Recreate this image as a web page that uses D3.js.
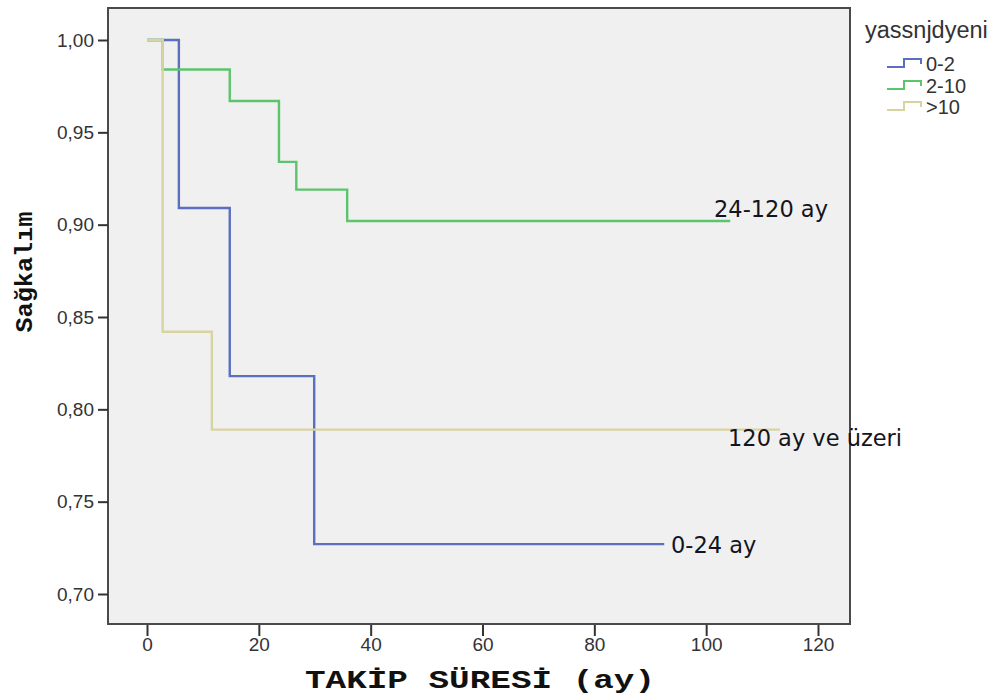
<!DOCTYPE html>
<html>
<head>
<meta charset="utf-8">
<script src="https://cdn.jsdelivr.net/npm/d3@7"></script>
<style>
  body { margin: 0; background: #fff; }
  svg { display: block; }
</style>
</head>
<body>
<div id="chart"></div>
<script>
// survival curves (step after), time in months
var blueTimes = [0, 5.7, 14.8, 29.9, 92.5];
var blueSurv = [1.0, 0.909, 0.818, 0.727, 0.727];
var greenTimes = [0, 2.8, 14.8, 23.6, 26.7, 35.8, 104.3];
var greenSurv = [1.0, 0.984, 0.967, 0.934, 0.919, 0.902, 0.902];
var tanTimes = [0, 2.8, 11.6, 113.2];
var tanSurv = [1.0, 0.842, 0.789, 0.789];

var xTicks = [0, 20, 40, 60, 80, 100, 120];
var yTicks = [0.70, 0.75, 0.80, 0.85, 0.90, 0.95, 1.00];
var groupNames = ['0-2', '2-10', '>10'];
var curveLabels = ['0-24 ay', '24-120 ay', '120 ay ve üzeri'];

var colors = ['#5a6fc0', '#5cc46c', '#d8d4a2'];

var W = 996, H = 699;
var frame = {left: 108, top: 8, right: 850, bottom: 624};

var x = d3.scaleLinear().domain([0, 120]).range([147, 818]);
var y = d3.scaleLinear().domain([0.70, 1.00]).range([594, 40]);

var svg = d3.select('#chart').append('svg')
  .attr('width', W)
  .attr('height', H);

svg.append('rect')
  .attr('x', frame.left).attr('y', frame.top)
  .attr('width', frame.right - frame.left)
  .attr('height', frame.bottom - frame.top)
  .attr('fill', '#f0f0f0');

var series = [
  {times: blueTimes, surv: blueSurv, color: colors[0]},
  {times: greenTimes, surv: greenSurv, color: colors[1]},
  {times: tanTimes, surv: tanSurv, color: colors[2]}
];

var line = d3.line()
  .x(function(d){ return x(d[0]); })
  .y(function(d){ return y(d[1]); })
  .curve(d3.curveStepAfter);

svg.selectAll('path.km')
  .data(series)
  .enter()
    .append('path')
    .classed('km', true)
    .attr('d', function(s){ return line(s.times.map(function(t, i){ return [t, s.surv[i]]; })); })
    .attr('fill', 'none')
    .attr('stroke', function(s){ return s.color; })
    .attr('stroke-width', 2.4);

// frame
svg.append('rect')
  .attr('x', frame.left).attr('y', frame.top)
  .attr('width', frame.right - frame.left)
  .attr('height', frame.bottom - frame.top)
  .attr('fill', 'none')
  .attr('stroke', '#4a4a4a')
  .attr('stroke-width', 2);

var fmt = function(d){ return d3.format('.2f')(d).replace('.', ','); };

var yAxis = svg.append('g')
  .attr('transform', 'translate(' + frame.left + ',0)')
  .call(d3.axisLeft(y).tickValues(yTicks).tickFormat(fmt).tickSize(10).tickPadding(4));

var xAxis = svg.append('g')
  .attr('transform', 'translate(0,' + (frame.bottom + 1) + ')')
  .call(d3.axisBottom(x).tickValues(xTicks).tickSize(11).tickPadding(2));

[yAxis, xAxis].forEach(function(a){
  a.select('.domain').remove();
  a.selectAll('.tick line').attr('stroke', '#333').attr('stroke-width', 2);
  a.selectAll('.tick text')
    .attr('fill', '#333')
    .style('font-family', 'Liberation Sans, Arial, sans-serif')
    .style('font-size', '19px');
});

// curve annotations
svg.selectAll('text.curve-label')
  .data(curveLabels)
  .enter()
    .append('text')
    .classed('curve-label', true)
    .attr('x', function(d, i){ return [671, 714, 728][i]; })
    .attr('y', function(d, i){ return [553, 217, 446][i]; })
    .style('font-family', 'DejaVu Sans, Verdana, sans-serif')
    .style('font-size', '22.5px')
    .attr('fill', '#141420')
    .text(function(d){ return d; });

// axis titles
svg.append('text')
  .attr('x', 305)
  .attr('y', 688)
  .attr('textLength', 350)
  .attr('lengthAdjust', 'spacingAndGlyphs')
  .style('font-family', 'Liberation Mono, Courier New, monospace')
  .style('font-weight', 'bold')
  .style('font-size', '26px')
  .attr('fill', '#111')
  .text('TAKİP SÜRESİ (ay)');

svg.append('text')
  .attr('transform', 'translate(32,272) rotate(-90)')
  .attr('text-anchor', 'middle')
  .attr('textLength', 121)
  .attr('lengthAdjust', 'spacingAndGlyphs')
  .style('font-family', 'Liberation Mono, Courier New, monospace')
  .style('font-weight', 'bold')
  .style('font-size', '24px')
  .attr('fill', '#111')
  .text('Sağkalım');

// legend
var legend = svg.append('g').attr('transform', 'translate(865,0)');
legend.append('text')
  .attr('x', 0).attr('y', 38)
  .style('font-family', 'Liberation Sans, Arial, sans-serif')
  .style('font-size', '23.5px')
  .attr('fill', '#333')
  .text('yassnjdyeni');

var items = legend.selectAll('g.item')
  .data(groupNames)
  .enter()
    .append('g')
    .classed('item', true)
    .attr('transform', function(d, i){ return 'translate(0,' + [63, 85, 106][i] + ')'; });

items.append('path')
  .attr('d', 'M22,4 H39 V-4 H56 V1')
  .attr('fill', 'none')
  .attr('stroke', function(d, i){ return colors[i]; })
  .attr('stroke-width', 2);

items.append('text')
  .attr('x', 61).attr('y', 8)
  .style('font-family', 'Liberation Sans, Arial, sans-serif')
  .style('font-size', '20px')
  .attr('fill', '#333')
  .text(function(d){ return d; });
</script>
</body>
</html>
